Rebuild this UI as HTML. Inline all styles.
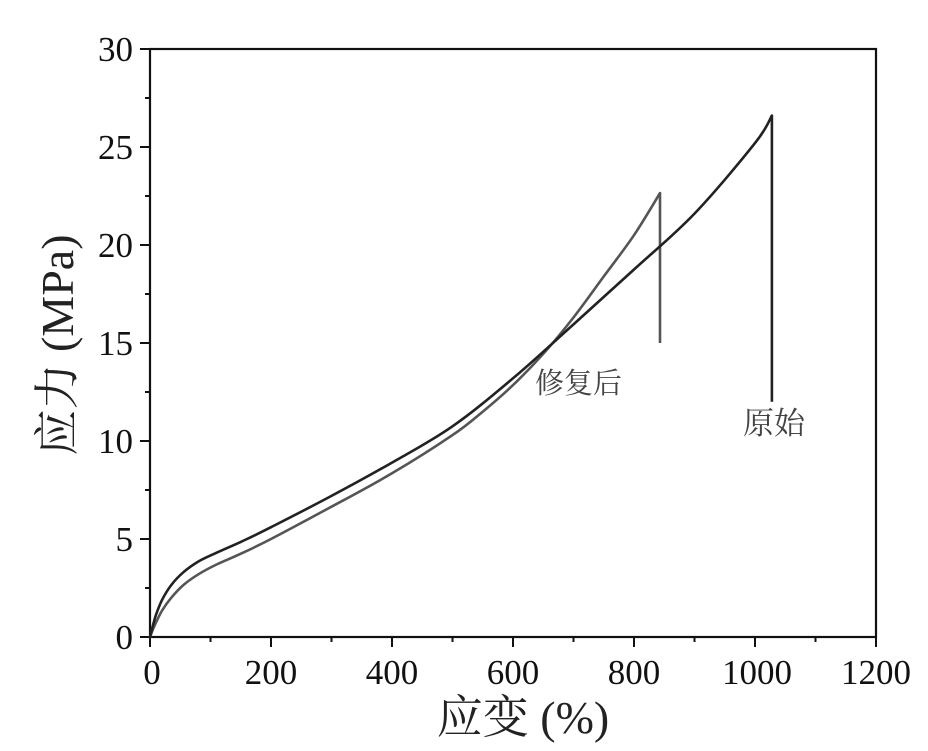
<!DOCTYPE html>
<html>
<head>
<meta charset="utf-8">
<style>
  html, body { margin:0; padding:0; background:#fff; }
  svg { display:block; }
  .tick { font-family: "Liberation Serif", "Noto Serif CJK SC", serif; font-size:35px; fill:#111; }
  .title { font-family: "Liberation Serif", "Noto Serif CJK SC", serif; font-size:46px; fill:#222; }
  .ann { font-family: "Liberation Serif", "Noto Serif CJK SC", serif; fill:#444; }
</style>
</head>
<body>
<svg width="928" height="751" viewBox="0 0 928 751" xmlns="http://www.w3.org/2000/svg">
  <rect x="0" y="0" width="928" height="751" fill="#fff"/>

  <!-- frame -->
  <rect x="150" y="49" width="726" height="588" fill="none" stroke="#111" stroke-width="2.2"/>

  <!-- x ticks -->
  <g stroke="#111" stroke-width="2">
    <line x1="150" y1="637" x2="150" y2="647"/>
    <line x1="271" y1="637" x2="271" y2="647"/>
    <line x1="392" y1="637" x2="392" y2="647"/>
    <line x1="513" y1="637" x2="513" y2="647"/>
    <line x1="634" y1="637" x2="634" y2="647"/>
    <line x1="755" y1="637" x2="755" y2="647"/>
    <line x1="876" y1="637" x2="876" y2="647"/>
    <line x1="210.5" y1="637" x2="210.5" y2="642"/>
    <line x1="331.5" y1="637" x2="331.5" y2="642"/>
    <line x1="452.5" y1="637" x2="452.5" y2="642"/>
    <line x1="573.5" y1="637" x2="573.5" y2="642"/>
    <line x1="694.5" y1="637" x2="694.5" y2="642"/>
    <line x1="815.5" y1="637" x2="815.5" y2="642"/>
  </g>
  <!-- y ticks -->
  <g stroke="#111" stroke-width="2">
    <line x1="140" y1="637" x2="150" y2="637"/>
    <line x1="140" y1="539" x2="150" y2="539"/>
    <line x1="140" y1="441" x2="150" y2="441"/>
    <line x1="140" y1="343" x2="150" y2="343"/>
    <line x1="140" y1="245" x2="150" y2="245"/>
    <line x1="140" y1="147" x2="150" y2="147"/>
    <line x1="140" y1="49" x2="150" y2="49"/>
    <line x1="145" y1="588" x2="150" y2="588"/>
    <line x1="145" y1="490" x2="150" y2="490"/>
    <line x1="145" y1="392" x2="150" y2="392"/>
    <line x1="145" y1="294" x2="150" y2="294"/>
    <line x1="145" y1="196" x2="150" y2="196"/>
    <line x1="145" y1="98" x2="150" y2="98"/>
  </g>

  <!-- y tick labels -->
  <g class="tick" text-anchor="end">
    <text x="133" y="649">0</text>
    <text x="133" y="551">5</text>
    <text x="133" y="453">10</text>
    <text x="133" y="355">15</text>
    <text x="133" y="257">20</text>
    <text x="133" y="159">25</text>
    <text x="133" y="61">30</text>
  </g>
  <!-- x tick labels -->
  <g class="tick" text-anchor="middle">
    <text x="152" y="684">0</text>
    <text x="271" y="684">200</text>
    <text x="392" y="684">400</text>
    <text x="513" y="684">600</text>
    <text x="634" y="684">800</text>
    <text x="757" y="684">1000</text>
    <text x="876" y="684">1200</text>
  </g>

  <!-- axis titles -->
  <text class="title" text-anchor="middle" transform="translate(73,345) rotate(-90)">应力 (MPa)</text>
  <text class="title" text-anchor="middle" x="523" y="733">应变 (%)</text>

  <!-- 修复后 curve -->
  <path id="c2" fill="none" stroke="#555" stroke-width="2.6" stroke-linejoin="round" stroke-linecap="round"
    d="M150,637 L153.0,629.2 L156.1,622.3 L162.1,610.5 L171.2,597.8 L183.3,585.1 L198.4,574.3 L216.6,564.5 L240.8,553.7 L271.0,539.0 L331.5,506.7 L392.0,473.3 L452.5,435.1 L482.8,411.6 L513.0,385.1 L543.3,353.8 L573.5,317.5 L603.8,276.4 L634.0,235.2 L660.0,193.1"/>
  <line x1="660" y1="193.1" x2="660" y2="343" stroke="#555" stroke-width="2.6"/>

  <!-- 原始 curve -->
  <path id="c1" fill="none" stroke="#222" stroke-width="2.6" stroke-linejoin="round" stroke-linecap="round"
    d="M150,637 L153.0,625.2 L156.1,614.5 L162.1,599.8 L171.2,585.1 L183.3,572.3 L198.4,561.5 L216.6,552.7 L240.8,541.9 L271.0,527.2 L331.5,495.9 L392.0,462.6 L452.5,426.3 L513.0,378.3 L573.5,324.4 L634.0,269.5 L694.5,213.6 L755.0,143.1 L771.9,115.6"/>
  <line x1="771.9" y1="115.6" x2="771.9" y2="401.8" stroke="#222" stroke-width="2.6"/>

  <!-- annotations -->
  <text class="ann" x="535" y="393" font-size="29">修复后</text>
  <text class="ann" x="743" y="434" font-size="31">原始</text>
</svg>
<script>
(function(){
  function smooth(pts){
    var d = "M" + pts[0][0] + "," + pts[0][1];
    for (var i = 0; i < pts.length - 1; i++) {
      var p0 = pts[i-1] || pts[i], p1 = pts[i], p2 = pts[i+1], p3 = pts[i+2] || p2;
      var c1x = p1[0] + (p2[0]-p0[0])/6, c1y = p1[1] + (p2[1]-p0[1])/6;
      var c2x = p2[0] - (p3[0]-p1[0])/6, c2y = p2[1] - (p3[1]-p1[1])/6;
      d += " C" + c1x.toFixed(1) + "," + c1y.toFixed(1) + " " + c2x.toFixed(1) + "," + c2y.toFixed(1) + " " + p2[0] + "," + p2[1];
    }
    return d;
  }
  var a = [[150,637],[153.0,625.2],[156.1,614.5],[162.1,599.8],[171.2,585.1],[183.3,572.3],[198.4,561.5],[216.6,552.7],[240.8,541.9],[271.0,527.2],[331.5,495.9],[392.0,462.6],[452.5,426.3],[513.0,378.3],[573.5,324.4],[634.0,269.5],[694.5,213.6],[755.0,143.1],[771.9,115.6]];
  var b = [[150,637],[153.0,629.2],[156.1,622.3],[162.1,610.5],[171.2,597.8],[183.3,585.1],[198.4,574.3],[216.6,564.5],[240.8,553.7],[271.0,539.0],[331.5,506.7],[392.0,473.3],[452.5,435.1],[482.8,411.6],[513.0,385.1],[543.3,353.8],[573.5,317.5],[603.8,276.4],[634.0,235.2],[660.0,193.1]];
  document.getElementById("c1").setAttribute("d", smooth(a));
  document.getElementById("c2").setAttribute("d", smooth(b));
})();
</script>
</body>
</html>
